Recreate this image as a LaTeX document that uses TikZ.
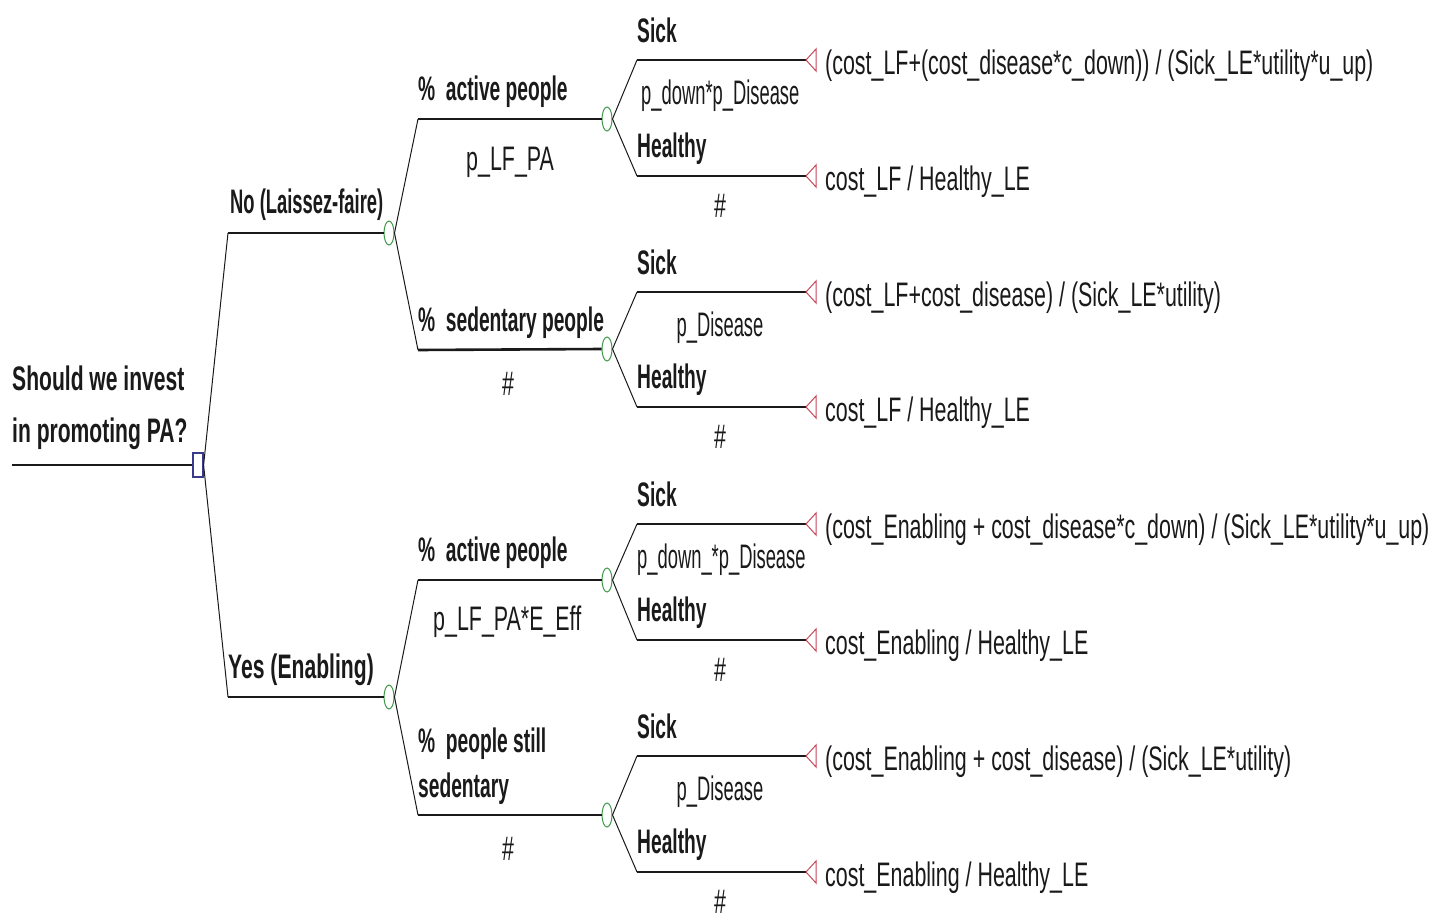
\documentclass[tikz,border=0pt]{standalone}
\usepackage{graphicx}
\usepackage{fontspec}
\setmainfont{Liberation Sans}
\newfontfamily\reglbl[FakeStretch=0.63]{Liberation Sans}
\newfontfamily\problbl[FakeStretch=0.54]{Liberation Sans}
\newfontfamily\boldlbl[FakeStretch=0.565]{Liberation Sans}
\newfontfamily\rootlbl[FakeStretch=0.62]{Liberation Sans}
\usetikzlibrary{shapes.geometric}
\definecolor{declc}{HTML}{3A3A8C}
\definecolor{chancec}{HTML}{3F9A4A}
\definecolor{termc}{HTML}{C8485A}
\definecolor{ink}{HTML}{1A1A1A}
\tikzset{
  branch/.style={draw=ink, line width=2.6pt},
  link/.style={draw=ink, line width=1pt},
  lab/.style={anchor=base west, inner sep=0pt, text=ink,
    font=\fontsize{34}{40}\selectfont\boldlbl\bfseries},
  rootlab/.style={lab, font=\fontsize{34}{40}\selectfont\rootlbl\bfseries},
  val/.style={anchor=base west, inner sep=0pt, text=ink,
    font=\fontsize{34}{40}\selectfont\reglbl},
  valc/.style={val, anchor=base},
  prob/.style={val, font=\fontsize{34}{40}\selectfont\problbl},
  probc/.style={prob, anchor=base},
  decision/.style={draw=declc, fill=white, line width=1.2pt, rectangle,
    minimum width=10pt, minimum height=24pt, inner sep=0pt},
  chance/.style={draw=chancec, fill=white, line width=1pt, ellipse,
    minimum width=10pt, minimum height=24pt, inner sep=0pt},
  payoff/.style={draw=termc, line width=1pt, fill=white},
}
\begin{document}
\begin{tikzpicture}[x=1pt,y=-1pt]
\fill[white] (0,0) rectangle (1448,918);
\useasboundingbox (0,0) rectangle (1448,918);

% ---- decision ----
\coordinate (r0) at (12,465);
\node[decision] (dec) at (198,465) {};
\draw[branch] (r0) -- (dec.west);
\node[rootlab] (q1) at (12,390) {Should we invest};
\node[rootlab] (q2) at (12,442) {in promoting PA?};

% ---- strategies ----
\coordinate (s1) at (228,233);
\coordinate (s2) at (228,697);
\node[chance] (c1) at (389,233) {};
\node[chance] (c2) at (389,697) {};
\draw[link] (dec.east) -- (s1);
\draw[link] (dec.east) -- (s2);
\draw[branch] (s1) -- (c1.west);
\draw[branch] (s2) -- (c2.west);
\node[lab] (l1) at (230,213) {\scalebox{0.956}[1]{No (Laissez-faire)}};
\node[lab] (l2) at (228,678) {\scalebox{1.1}[1]{Yes (Enabling)}};

% ---- activity groups ----
\coordinate (a0) at (418,119);
\coordinate (b0) at (418,350);
\coordinate (g0) at (418,580);
\coordinate (d0) at (418,815);
\node[chance] (ca) at (607,119) {};
\node[chance] (cb) at (607,349) {};
\node[chance] (cg) at (607,580) {};
\node[chance] (cd) at (607,815) {};
\draw[link] (c1.east) -- (a0);
\draw[link] (c1.east) -- (b0);
\draw[link] (c2.east) -- (g0);
\draw[link] (c2.east) -- (d0);
\draw[branch] (a0) -- (ca.west);
\draw[branch] (b0) -- (cb.west);
\draw[branch] (g0) -- (cg.west);
\draw[branch] (d0) -- (cd.west);
\node[lab] (la) at (418,100) {\%\ \ active people};
\node[val] (pa) at (466,170) {p\_LF\_PA};
\node[lab] (lb) at (418,331) {\%\ \ sedentary people};
\node[valc] (pb) at (508,395) {\#};
\node[lab] (lg) at (418,561) {\%\ \ active people};
\node[val] (pg) at (433,630) {p\_LF\_PA*E\_Eff};
\node[lab] (ld1) at (418,752) {\%\ \ people still};
\node[lab] (ld2) at (418,797) {sedentary};
\node[valc] (pd) at (508,860) {\#};

% ---- health outcomes ----
\foreach \g/\ys/\yh in {a/60/176, b/292/407, g/524/640, d/756/872}{
  \coordinate (\g s) at (637,\ys);
  \coordinate (\g h) at (637,\yh);
  \coordinate (\g st) at (806,\ys);
  \coordinate (\g ht) at (806,\yh);
  \draw[link] (c\g.east) -- (\g s);
  \draw[link] (c\g.east) -- (\g h);
  \draw[branch] (\g s) -- (\g st);
  \draw[branch] (\g h) -- (\g ht);
  \draw[payoff] (\g st) -- ++(10,-11) -- ++(0,22) -- cycle;
  \draw[payoff] (\g ht) -- ++(10,-11) -- ++(0,22) -- cycle;
  \node[lab] (\g sl) at ([yshift=18pt]\g s) {Sick};
  \node[lab] (\g hl) at ([yshift=19pt]\g h) {Healthy};
  \node[valc] (\g hp) at ([xshift=83pt,yshift=-41pt]\g h) {\#};
}
\node[prob] (asp) at (641,104) {p\_down*p\_Disease};
\node[probc] (bsp) at (720,336) {p\_Disease};
\node[prob] (gsp) at (637,568) {p\_down\_*p\_Disease};
\node[probc] (dsp) at (720,800) {p\_Disease};

% ---- payoffs ----
\node[val] (ast-v) at (825,74) {(cost\_LF+(cost\_disease*c\_down)) / (Sick\_LE*utility*u\_up)};
\node[val] (aht-v) at (825,190) {cost\_LF / Healthy\_LE};
\node[val] (bst-v) at (825,306) {(cost\_LF+cost\_disease) / (Sick\_LE*utility)};
\node[val] (bht-v) at (825,421) {cost\_LF / Healthy\_LE};
\node[val] (gst-v) at (825,538) {(cost\_Enabling + cost\_disease*c\_down) / (Sick\_LE*utility*u\_up)};
\node[val] (ght-v) at (825,654) {cost\_Enabling / Healthy\_LE};
\node[val] (dst-v) at (825,770) {(cost\_Enabling + cost\_disease) / (Sick\_LE*utility)};
\node[val] (dht-v) at (825,886) {cost\_Enabling / Healthy\_LE};
\end{tikzpicture}
\end{document}
